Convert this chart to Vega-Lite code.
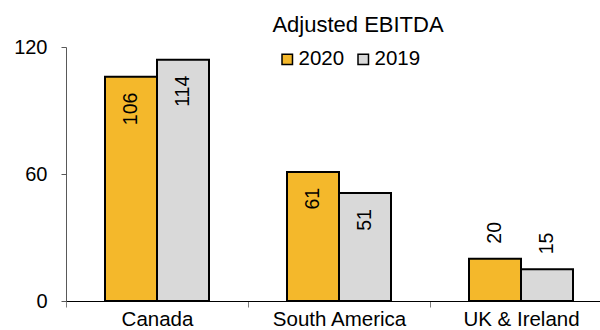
{
  "$schema": "https://vega.github.io/schema/vega-lite/v6.json",
  "width": 546,
  "height": 254,
  "autosize": {"type": "none"},
  "padding": {"left": 66, "top": 47, "right": 0, "bottom": 29},
  "background": "white",
  "config": {
    "view": {"stroke": null},
    "font": "Liberation Sans"
  },
  "title": {
    "text": "Adjusted EBITDA",
    "anchor": "middle",
    "dx": 19,
    "dy": 3,
    "fontSize": 22,
    "fontWeight": "normal",
    "color": "black",
    "font": "Liberation Sans",
    "baseline": "alphabetic",
    "offset": -14
  },
  "data": {
    "values": [
      {"region": "Canada", "year": "2020", "value": 106},
      {"region": "Canada", "year": "2019", "value": 114},
      {"region": "South America", "year": "2020", "value": 61},
      {"region": "South America", "year": "2019", "value": 51},
      {"region": "UK & Ireland", "year": "2020", "value": 20},
      {"region": "UK & Ireland", "year": "2019", "value": 15}
    ]
  },
  "encoding": {
    "x": {
      "field": "region", "type": "nominal", "sort": null,
      "scale": {"paddingInner": 0, "paddingOuter": 0},
      "axis": {
        "title": null, "labelAngle": 0, "tickBand": "extent", "ticks": true,
        "tickSize": 6, "tickColor": "#7f7f7f", "domainColor": "black", "domainWidth": 1.2,
        "labelFontSize": 20.5, "labelColor": "black", "labelPadding": 2, "labelFont": "Liberation Sans"
      }
    },
    "xOffset": {
      "field": "year", "type": "nominal", "sort": ["2020", "2019"],
      "scale": {"paddingInner": 0, "paddingOuter": 0.75}
    },
    "y": {
      "field": "value", "type": "quantitative",
      "scale": {"domain": [0, 120], "nice": false},
      "axis": {
        "title": null, "values": [0, 60, 120], "grid": false, "tickSize": 5,
        "tickColor": "#595959", "domainColor": "#595959", "labelFontSize": 20,
        "labelColor": "black", "labelPadding": 14, "labelFont": "Liberation Sans"
      }
    }
  },
  "layer": [
    {
      "mark": {"type": "bar", "stroke": "black", "strokeWidth": 2},
      "encoding": {
        "color": {
          "field": "year", "type": "nominal",
          "scale": {"domain": ["2020", "2019"], "range": ["#F4B82B", "#D9D9D9"]},
          "legend": {
            "title": null, "orient": "none", "direction": "horizontal",
            "legendX": 211, "legendY": 2, "padding": 0,
            "symbolType": "square", "symbolSize": 110, "symbolStrokeColor": "black",
            "symbolStrokeWidth": 1.5, "symbolOpacity": 1,
            "labelFontSize": 20.5, "labelColor": "black", "labelFont": "Liberation Sans",
            "labelOffset": 1, "columnPadding": 8
          }
        }
      }
    },
    {
      "transform": [{"filter": "datum.value >= 30"}],
      "mark": {"type": "text", "angle": 270, "align": "right", "baseline": "middle", "dx": -16, "fontSize": 19.5, "color": "black"},
      "encoding": {"text": {"field": "value", "type": "quantitative"}}
    },
    {
      "transform": [{"filter": "datum.value < 30"}],
      "mark": {"type": "text", "angle": 270, "align": "left", "baseline": "middle", "dx": 15, "fontSize": 19.5, "color": "black"},
      "encoding": {"text": {"field": "value", "type": "quantitative"}}
    }
  ]
}
